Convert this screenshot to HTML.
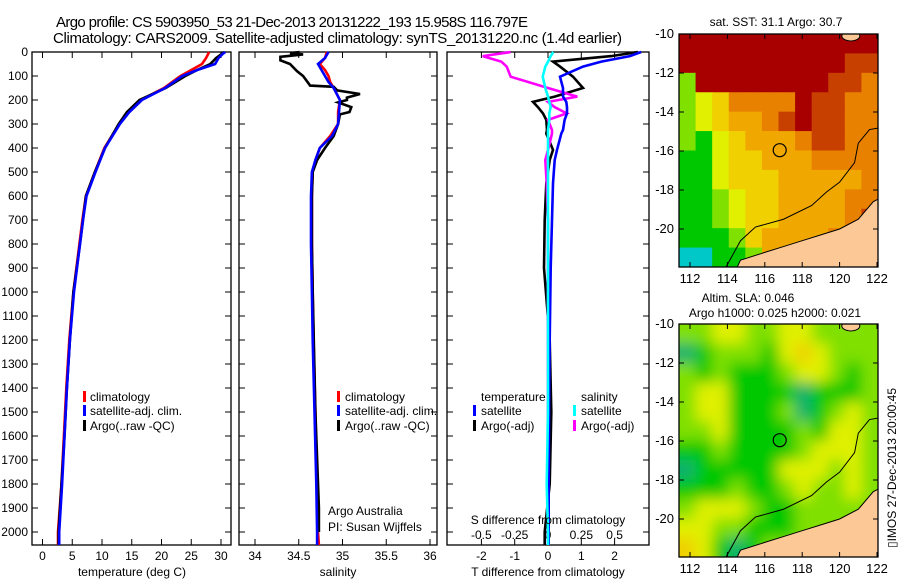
<!DOCTYPE html>
<html><head><meta charset="utf-8"><style>
body{margin:0;background:#fff}
svg{display:block;font-family:"Liberation Sans",sans-serif}
text{font-size:12px;fill:#000}
</style></head><body>
<svg id="fig" width="900" height="580" viewBox="0 0 900 580">
<text x="56" y="27" style="font-size:15px" textLength="472">Argo profile: CS 5903950_53 21-Dec-2013 20131222_193 15.958S 116.797E</text>
<text x="53" y="43" style="font-size:15px" textLength="569">Climatology: CARS2009. Satellite-adjusted climatology: synTS_20131220.nc (1.4d earlier)</text>
<g id="maps"></g>
<g id="panels"></g>
</svg>
<script>
// ---------- data ----------
const tDepth = [0,10,25,50,75,100,150,200,250,300,400,500,600,700,800,1000,1200,1400,1600,1800,2000,2054];
const tClim  = [28,27.8,27.5,26.8,25,23.2,20.4,16.5,14.5,12.9,10.4,8.8,7.3,6.7,6.2,5.2,4.5,4.0,3.6,3.2,2.6,2.6];
const tSat   = [30.7,30.2,29.6,29,26,23.5,20.6,16.7,14.6,13,10.5,8.9,7.4,6.8,6.3,5.3,4.6,4.1,3.7,3.3,2.8,2.8];
const tArgo  = [30.5,30,29.2,28.2,26,24,20.7,16.3,14.2,12.8,10.5,8.8,7.3,6.8,6.3,5.2,4.6,4.1,3.7,3.2,2.7,2.7];

const sDepth = [0,25,50,75,100,125,150,200,250,300,350,400,450,500,600,800,1000,1200,1500,1800,2000,2054];
const sClim  = [34.82,34.8,34.74,34.8,34.84,34.86,34.9,34.97,34.95,34.95,34.86,34.74,34.69,34.66,34.65,34.65,34.66,34.67,34.69,34.71,34.72,34.73];
const sSat   = [34.84,34.8,34.72,34.76,34.8,34.84,34.9,34.97,34.96,34.95,34.88,34.74,34.69,34.65,34.64,34.64,34.65,34.66,34.68,34.7,34.71,34.71];
const aDepth = [0,5,10,20,35,50,80,100,130,140,145,160,175,190,200,210,230,250,260,300,350,400,450,500,600,800,1000,1500,1900,2000];
const sArgo  = [34.51,34.4,34.55,34.29,34.29,34.4,34.48,34.55,34.61,34.63,34.9,34.94,35.2,35.05,35.05,34.95,35.1,35.08,34.97,34.95,34.9,34.8,34.71,34.66,34.65,34.65,34.66,34.69,34.73,34.73];

const dDepth = [0,17,40,61,103,150,186,208,230,256,283,325,340,408,450,547,700,900,1200,1500,1800,2000,2054];
const dTsat  = [2.8,2.46,1.6,1.05,0.36,0.45,0.45,0.55,0.57,0.57,0.5,0.45,0.4,0.27,0.2,0.15,0.12,0.08,0.05,0.03,0.02,0.02,0.02];
const dTargo = [2.7,1.9,0.15,0.36,0.75,1.05,0.2,-0.45,-0.3,-0.15,-0.05,-0.03,-0.05,0.15,0.05,-0.05,-0.1,-0.12,0.05,0.1,0.05,-0.1,-0.1];
const dSsat  = [0.04,0.02,0.0,-0.02,-0.04,-0.02,0.0,0.01,0.02,0.01,0.01,0.0,0.0,0.0,0.0,0.0,0.0,0.0,0.0,0.0,-0.01,0.0,0.0];
const dSargo = [-0.28,-0.49,-0.35,-0.31,-0.28,0.0,0.22,0.0,0.05,0.14,0.0,0.03,0.03,0.0,-0.02,-0.01,0.0,0.0,0.0,0.0,0.0,0.0,0.0];

const depthTicks = [0,100,200,300,400,500,600,700,800,900,1000,1100,1200,1300,1400,1500,1600,1700,1800,1900,2000];
const tTicks = [0,5,10,15,20,25,30];
const sTicks = [34,34.5,35,35.5,36];
const dTticks = [-2,-1,0,1,2];
const dSticks = [-0.5,-0.25,0,0.25,0.5];
const dSlabels = ['-0.5','-0.25','0','0.25','0.5'];
const latTicks = [-10,-12,-14,-16,-18,-20];
const lonTicks = [112,114,116,118,120,122];

// ---------- helpers ----------
const NS='http://www.w3.org/2000/svg';
function mk(tag,attrs,parent){const e=document.createElementNS(NS,tag);for(const k in attrs)e.setAttribute(k,attrs[k]);parent.appendChild(e);return e;}
const yD = d => 52 + d*0.24;
const PB = 545, PT = 52;
const panels = document.getElementById('panels');
const panelDefs = [
 {x0:32,x1:231,f:v=>42.5+v*5.95,name:'temperature-panel'},
 {x0:239,x1:437,f:v=>255+(v-34)*87.5,name:'salinity-panel'},
 {x0:447,x1:649,f:v=>548+v*33.3,name:'difference-panel'}
];
const fS = v => 548 + v*133.3;

panelDefs.forEach((p,i)=>{
  const g=mk('g',{},panels);
  
  
  const r=mk('rect',{x:p.x0,y:PT,width:p.x1-p.x0,height:PB-PT,fill:'none',stroke:'#000','stroke-width':1.3},g);
  
  
  depthTicks.forEach(d=>{
    const y=yD(d);
    mk('line',{x1:p.x0,x2:p.x0+6,y1:y,y2:y,stroke:'#000'},g);
    mk('line',{x1:p.x1,x2:p.x1-6,y1:y,y2:y,stroke:'#000'},g);
    if(i===0){const t=mk('text',{x:28,y:y+4,'text-anchor':'end'},g);t.textContent=d;
      
      }
  });
});
function xTicks(p,ticks,labels,ly,f,top){
  ticks.forEach((v,k)=>{
    const x=f(v);
    mk('line',{x1:x,x2:x,y1:PB,y2:PB-6,stroke:'#000'},panels);
    if(top) mk('line',{x1:x,x2:x,y1:PT,y2:PT+6,stroke:'#000'},panels);
    const t=mk('text',{x:x,y:ly,'text-anchor':'middle'},panels);t.textContent=labels[k];
    
    
  });
}
xTicks(panelDefs[0],tTicks,tTicks,560,panelDefs[0].f,true);
xTicks(panelDefs[1],sTicks,sTicks,560,panelDefs[1].f,true);
xTicks(panelDefs[2],dTticks,dTticks,560,panelDefs[2].f,true);
dSticks.forEach((v,k)=>{const x=fS(v);
  const t=mk('text',{x:x,y:539,'text-anchor':'middle'},panels);t.textContent=dSlabels[k];
  
  });

function line(depths,vals,f,color,name,w){
  const pts=depths.map((d,k)=>f(vals[k]).toFixed(1)+','+yD(d).toFixed(1)).join(' ');
  const e=mk('polyline',{points:pts,fill:'none',stroke:color,'stroke-width':w||2.6,'stroke-linejoin':'miter'},panels);
  
  
}
line(tDepth,tClim,panelDefs[0].f,'#f00','temp-climatology-line');
line(tDepth,tArgo,panelDefs[0].f,'#000','temp-argo-line');
line(tDepth,tSat,panelDefs[0].f,'#00f','temp-satellite-line');
line(sDepth,sClim,panelDefs[1].f,'#f00','sal-climatology-line');
line(aDepth,sArgo,panelDefs[1].f,'#000','sal-argo-line');
line(sDepth,sSat,panelDefs[1].f,'#00f','sal-satellite-line');
line(dDepth,dTargo,panelDefs[2].f,'#000','tdiff-argo-line');
line(dDepth,dSargo,fS,'#f0f','sdiff-argo-line');
line(dDepth,dTsat,panelDefs[2].f,'#00f','tdiff-satellite-line');
line(dDepth,dSsat,fS,'#0ff','sdiff-satellite-line');

function lab(x,y,s,name,anchor){const t=mk('text',{x:x,y:y,'text-anchor':anchor||'start'},panels);t.textContent=s;
  
  return t;}
function key(x,y,c){mk('rect',{x:x,y:y-10,width:3,height:11,fill:c},panels);}
[[83,90],[337,345]].forEach(([kx,tx])=>{
  key(kx,401,'#f00');lab(tx,401,'climatology','legend-climatology');
  key(kx,415,'#00f');lab(tx,415,'satellite-adj. clim.','legend-satellite-adj');
  key(kx,430,'#000');lab(tx,430,'Argo(..raw -QC)','legend-argo');
});
lab(481,401,'temperature','legend-temperature-header');
key(473,415,'#00f');lab(481,415,'satellite','legend-t-satellite');
key(473,430,'#000');lab(481,430,'Argo(-adj)','legend-t-argo');
lab(581,401,'salinity','legend-salinity-header');
key(573,415,'#0ff');lab(581,415,'satellite','legend-s-satellite');
key(573,430,'#f0f');lab(581,430,'Argo(-adj)','legend-s-argo');
lab(328,515,'Argo Australia','credit-argo-australia');
lab(328,531,'PI: Susan Wijffels','credit-pi');
lab(548,524,'S difference from climatology','s-diff-axis-title','middle');
lab(132,576,'temperature (deg C)','temp-axis-title','middle');
lab(338,576,'salinity','salinity-axis-title','middle');
lab(548,576,'T difference from climatology','t-diff-axis-title','middle');

// ---------- maps ----------
const maps=document.getElementById('maps');
const MX0=679,MX1=878;
const lonX=l=>690+(l-112)*18.7;
const sstCells=[
"RRRRRRRRRRRR",
"RRRRRRRRRRrr",
"gRRRRRRRRrro",
"gyYooooRrroo",
"gyYOOorRrroo",
"gGyYOOOorroo",
"GGyYYOOOoooo",
"GGyYYYOOOOOo",
"GGgyYYOOOOoo",
"GGgyYYOOOOor",
"GGGgYOOOOorr",
"CCGGgOOOoorr"];
const slaCells=[
"ggyyggyygggg",
"TGgggGyYyggg",
"gGgGGGgyygGg",
"gyyGGGGTGGGg",
"gyyGGGgTGgyg",
"ggyGGGGgGyyg",
"GGgGGGGgyyyg",
"TGGGGGyyygyg",
"GGGgGGgyggyg",
"gyyygGGggggg",
"yyggGGGggggg",
"YyGTGgggggyy"];
const pal={R:'#a80000',r:'#c84000',o:'#e88000',O:'#f0a800',Y:'#f0d000',y:'#e0f000',g:'#80e000',G:'#00c800',C:'#00c8c8',T:'#10b070'};
function drawMap(y0,title1,title2,cells,name,blur){
  const y1=y0+233;
  const latY=l=>y0+(-10-l)*19.5;
  const g=mk('g',{},maps);
  
  
  const cid='clip'+y0;
  const cp=mk('clipPath',{id:cid},g);mk('rect',{x:MX0,y:y0,width:MX1-MX0,height:y1-y0},cp);
  const inner=mk('g',{'clip-path':'url(#'+cid+')'},g);
  const cg=mk('g',blur?{filter:'url(#bl)'}:{},inner);
  const cw=(MX1-MX0)/12,ch=(y1-y0)/12;
  cells.forEach((row,r)=>{for(let c=0;c<12;c++){
    mk('rect',{x:MX0+c*cw-(blur&&c===0?20:0),y:y0+r*ch-(blur&&r===0?20:0),width:cw+1+(blur&&(c===0||c===11)?20:0),height:ch+1+(blur&&(r===0||r===11)?20:0),fill:pal[row[c]]},cg);}});
  const land=[[114.4,-22.2],[114.7,-21.6],[116,-21.2],[117,-20.9],[118,-20.6],[119,-20.3],[120,-20.0],[121,-19.5],[121.8,-18.6],[122.2,-18.4],[122.2,-22.2]];
  const lp=mk('polygon',{points:land.map(p=>lonX(p[0])+','+latY(p[1])).join(' '),fill:'#fcc896',stroke:'#000','stroke-width':1},inner);
  
  
  mk('ellipse',{cx:lonX(120.6),cy:latY(-10.1),rx:9,ry:5,fill:'#fcc896',stroke:'#000'},inner);
  const iso=[[113.9,-22],[114.7,-20.6],[115.5,-19.9],[117,-19.5],[118.5,-18.8],[119.3,-18.1],[120,-17.6],[120.8,-16.6],[121,-15.6],[121.6,-14.9],[122.2,-14.8]];
  mk('polyline',{points:iso.map(p=>lonX(p[0])+','+latY(p[1])).join(' '),fill:'none',stroke:'#000','stroke-width':1},inner);
  const ci=mk('circle',{cx:lonX(116.797),cy:latY(-15.958),r:6.5,fill:'none',stroke:'#000','stroke-width':1.2},g);
  
  
  mk('rect',{x:MX0,y:y0,width:MX1-MX0,height:y1-y0,fill:'none',stroke:'#000','stroke-width':1.3},g);
  latTicks.forEach(l=>{const y=latY(l);mk('line',{x1:MX0,x2:MX0+5,y1:y,y2:y,stroke:'#000'},g);mk('line',{x1:MX1,x2:MX1-5,y1:y,y2:y,stroke:'#000'},g);
    const t=mk('text',{x:674,y:y+4,'text-anchor':'end',style:'font-size:13px'},g);t.textContent=l;
    
    });
  lonTicks.forEach(l=>{const x=lonX(l);mk('line',{x1:x,x2:x,y1:y1,y2:y1-5,stroke:'#000'},g);mk('line',{x1:x,x2:x,y1:y0,y2:y0+5,stroke:'#000'},g);
    const t=mk('text',{x:x,y:y1+16,'text-anchor':'middle',style:'font-size:13px'},g);t.textContent=l;
    
    });
  title1.forEach(([s,x,y])=>{const t=mk('text',{x:x,y:y,'text-anchor':'middle'},g);t.textContent=s;
    
    });
}
const defs=mk('defs',{},maps);
const f=mk('filter',{id:'bl',x:'-10%',y:'-10%',width:'120%',height:'120%'},defs);
mk('feGaussianBlur',{stdDeviation:7},f);
drawMap(34,[['sat. SST: 31.1 Argo: 30.7',776,26]],null,sstCells,'sst-map',false);
drawMap(324,[['Altim. SLA: 0.046',748,302],['Argo h1000: 0.025 h2000: 0.021',775,317]],null,slaCells,'sla-map',true);
const v=mk('text',{x:0,y:0,'text-anchor':'middle',transform:'translate(896,468) rotate(-90)'},maps);
v.textContent='▯IMOS 27-Dec-2013 20:00:45';


</script>
</body></html>
